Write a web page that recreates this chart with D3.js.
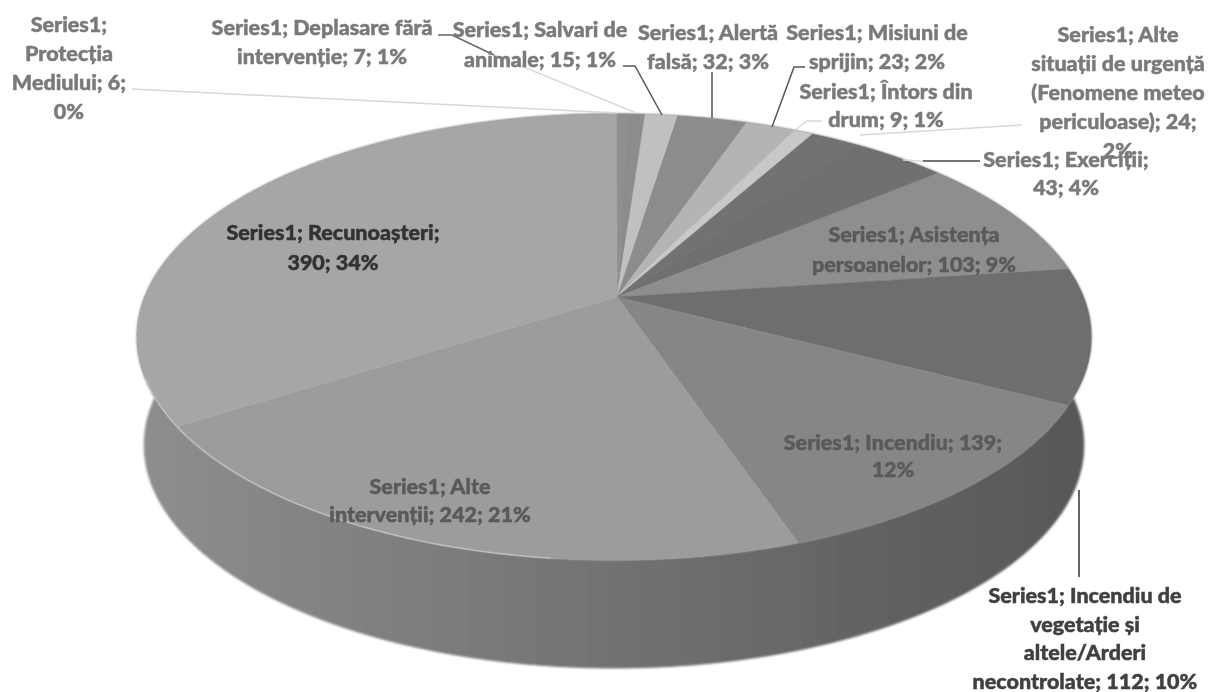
<!DOCTYPE html>
<html>
<head>
<meta charset="utf-8">
<script src="https://cdn.jsdelivr.net/npm/d3@7"></script>
<style>
  html, body { margin: 0; padding: 0; background: #fff; }
  svg { display: block; }
  text { font-family: Lato, "Open Sans", sans-serif; font-weight: 900; font-size: 21.5px; text-anchor: middle; stroke-width: 0.5px; }
</style>
</head>
<body>
<div id="chart"></div>
<script>
var width = 1208,
    height = 692

// clockwise from twelve o'clock
var categories = ['Protecția Mediului', 'Deplasare fără intervenție', 'Salvari de animale', 'Alertă falsă',
    'Misiuni de sprijin', 'Întors din drum', 'Alte situații de urgență (Fenomene meteo periculoase)', 'Exerciții',
    'Asistența persoanelor', 'Incendiu de vegetație și altele/Arderi necontrolate', 'Incendiu',
    'Alte intervenții', 'Recunoașteri']
var values = [6, 7, 15, 32, 23, 9, 24, 43, 103, 112, 139, 242, 390]
var topColors = ['#8f8f8f', '#8c8c8c', '#c0c0c0', '#8c8c8c', '#b4b4b4', '#c8c8c8', '#727272', '#6f6f6f',
    '#8e8e8e', '#6e6e6e', '#868686', '#9c9c9c', '#a6a6a6']

// label lines, anchor and ink colour, same order as the categories
var labelLines = [
    ['Series1;', 'Protecția', 'Mediului; 6;', '0%'],
    ['Series1; Deplasare fără', 'intervenție; 7; 1%'],
    ['Series1; Salvari de', 'animale; 15; 1%'],
    ['Series1; Alertă', 'falsă; 32; 3%'],
    ['Series1; Misiuni de', 'sprijin; 23; 2%'],
    ['Series1; Întors din', 'drum; 9; 1%'],
    ['Series1; Alte', 'situații de urgență', '(Fenomene meteo', 'periculoase); 24;', '2%'],
    ['Series1; Exerciții;', '43; 4%'],
    ['Series1; Asistența', 'persoanelor; 103; 9%'],
    ['Series1; Incendiu de', 'vegetație și', 'altele/Arderi', 'necontrolate; 112; 10%'],
    ['Series1; Incendiu; 139;', '12%'],
    ['Series1; Alte', 'intervenții; 242; 21%'],
    ['Series1; Recunoașteri;', '390; 34%']
]
var labelX = [69, 322, 540, 708, 877, 886, 1118, 1066, 914, 1085, 893, 430, 333]
var labelY = [32, 35, 37, 40, 40, 99, 42, 167, 242, 603, 450, 494, 240]
var labelGap = [29, 29, 30, 29, 29, 28, 29, 28, 30, 28.5, 27, 28, 30]
var labelInk = ['#7a7a7a', '#7a7a7a', '#7a7a7a', '#7a7a7a', '#7a7a7a', '#7a7a7a', '#7a7a7a', '#7a7a7a',
    '#5a5a5a', '#404040', '#5a5a5a', '#5a5a5a', '#333333']

// leader lines, slice edge to label
var leaderPoints = [
    [[132, 89], [617, 113]],
    [[494, 55], [634, 112]],
    [[438, 35], [452, 35], [494, 55]],
    [[623, 66], [635, 66], [662, 115]],
    [[712, 72], [712, 118]],
    [[805, 67], [794, 67], [772, 127]],
    [[822, 121], [807, 121], [795, 130]],
    [[1022, 125], [860, 135]],
    [[903, 160], [923, 161]],
    [[923, 161], [980, 161]],
    [[1079, 490], [1079, 577]]
]
var leaderColor = ['#d8d8d8', '#d8d8d8', '#666', '#555', '#555', '#555', '#d8d8d8', '#d8d8d8', '#d8d8d8', '#444', '#333']

var cx = 614, cy = 337, rx = 477, ry = 223
var depth = 108

// the pie's centre sits above the middle of the ellipse, from the perspective
var apexX = (617 - cx) / rx,
    apexY = (297 - cy) / ry
var apexLen = Math.hypot(apexX, apexY)
var dirX = apexX / apexLen,
    dirY = apexY / apexLen

function project(angle, r) {
    var u = r * Math.sin(angle),
        v = -r * Math.cos(angle)
    var par = u * dirX + v * dirY,
        perp = -u * dirY + v * dirX
    var w = 1 + apexLen * par
    var par2 = (par + apexLen) / w,
        perp2 = Math.sqrt(1 - apexLen * apexLen) * perp / w
    return [cx + rx * (par2 * dirX - perp2 * dirY), cy + ry * (par2 * dirY + perp2 * dirX)]
}

var pie = d3.pie().sort(null).value(function(d) { return d })
    .startAngle(0).endAngle(2 * Math.PI)
var slices = pie(values)

var line = d3.line()

function rim(d) {
    return d3.range(0, 61).map(function(i) {
        return project(d.startAngle + (d.endAngle - d.startAngle) * i / 60, 1)
    })
}

var svg = d3.select('#chart').append('svg')
    .attr('width', width)
    .attr('height', height)

var defs = svg.append('defs')
defs.append('filter').attr('id', 'soft')
    .append('feGaussianBlur').attr('stdDeviation', 0.6)
defs.append('filter').attr('id', 'edge')
    .append('feGaussianBlur').attr('stdDeviation', 1.3)

var wallScale = d3.scaleLinear().domain([137, 1090]).range([0, 1])
var wall = defs.append('linearGradient').attr('id', 'wall')
    .attr('gradientUnits', 'userSpaceOnUse')
    .attr('x1', wallScale.invert(0)).attr('x2', wallScale.invert(1))
    .attr('y1', 0).attr('y2', 0)
wall.append('stop').attr('offset', 0).attr('stop-color', '#8e8e8e')
wall.append('stop').attr('offset', 0.45).attr('stop-color', '#757575')
wall.append('stop').attr('offset', 0.85).attr('stop-color', '#5e5e5e')
wall.append('stop').attr('offset', 1).attr('stop-color', '#585858')

// side wall first, one band under each slice
svg.append('g').attr('filter', 'url(#edge)')
    .selectAll('path.side').data(slices)
    .enter().append('path')
    .attr('class', 'side')
    .attr('fill', 'url(#wall)')
    .attr('stroke', 'url(#wall)')
    .attr('d', function(d) {
        var pts = rim(d)
        var low = pts.map(function(p) {
            return [cx + (p[0] - cx) * 0.985, p[1] + depth]
        }).reverse()
        return line(pts.concat(low)) + 'Z'
    })

var pieGroup = svg.append('g').attr('filter', 'url(#soft)')

pieGroup.selectAll('path.top').data(slices)
    .enter().append('path')
    .attr('class', 'top')
    .attr('fill', function(d, i) { return topColors[i] })
    .attr('stroke', function(d, i) { return topColors[i] })
    .attr('stroke-width', 0.5)
    .attr('d', function(d) {
        return line([project(0, 0)].concat(rim(d))) + 'Z'
    })

// pale highlight along the front-left rim
pieGroup.selectAll('path.shine').data(slices.slice(11))
    .enter().append('path')
    .attr('class', 'shine')
    .attr('fill', 'none')
    .attr('stroke', '#bdbdbd')
    .attr('stroke-width', 1.5)
    .attr('d', function(d) {
        return line(rim(d).filter(function(p) { return p[0] < 560 && p[1] > 372 }))
    })

svg.selectAll('path.leader').data(leaderPoints)
    .enter().append('path')
    .attr('class', 'leader')
    .attr('fill', 'none')
    .attr('stroke', function(d, i) { return leaderColor[i] })
    .attr('stroke-width', 1.5)
    .attr('d', function(d) { return line(d) })

var labels = svg.selectAll('text.label').data(labelLines)
    .enter().append('text')
    .attr('class', 'label')
    .attr('filter', 'url(#soft)')
    .attr('fill', function(d, i) { return labelInk[i] })
    .attr('stroke', function(d, i) { return labelInk[i] })
    .attr('x', function(d, i) { return labelX[i] })
    .attr('y', function(d, i) { return labelY[i] })

labels.selectAll('tspan').data(function(d, i) {
        return d.map(function(t) { return { t: t, x: labelX[i], gap: labelGap[i] } })
    })
    .enter().append('tspan')
    .attr('x', function(d) { return d.x })
    .attr('dy', function(d, i) { return i ? d.gap : 0 })
    .text(function(d) { return d.t })
</script>
</body>
</html>
